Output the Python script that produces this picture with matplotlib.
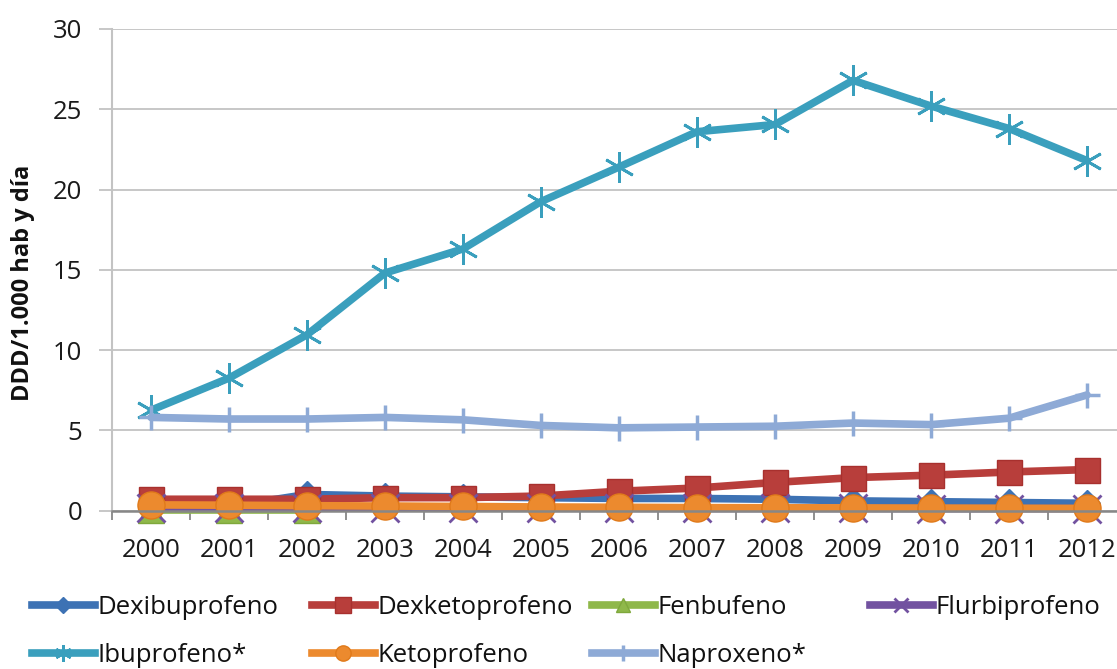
import numpy as np
import matplotlib
matplotlib.use("Agg")
import matplotlib.pyplot as plt
from matplotlib.lines import Line2D

plt.rcParams['font.family'] = ['Open Sans', 'DejaVu Sans']

# Consumo de AINE derivados del ácido propiónico (DDD/1.000 hab y día)
years = ['2000', '2001', '2002', '2003', '2004', '2005', '2006',
         '2007', '2008', '2009', '2010', '2011', '2012']
dexibuprofeno = [0.20, 0.25, 1.00, 0.90, 0.85, 0.80, 0.75, 0.75, 0.70, 0.60, 0.55, 0.50, 0.45]
dexketoprofeno = [0.70, 0.70, 0.70, 0.80, 0.80, 0.90, 1.20, 1.40, 1.75, 2.05, 2.20, 2.40, 2.55]
fenbufeno = [0.02, 0.02, 0.02, np.nan, np.nan, np.nan, np.nan,
             np.nan, np.nan, np.nan, np.nan, np.nan, np.nan]
flurbiprofeno = [0.15, 0.15, 0.15, 0.15, 0.15, 0.14, 0.14, 0.13, 0.13, 0.13, 0.12, 0.12, 0.12]
ibuprofeno = [6.25, 8.25, 10.95, 14.8, 16.3, 19.25, 21.4, 23.6, 24.05, 26.8, 25.2, 23.8, 21.8]
ketoprofeno = [0.35, 0.33, 0.30, 0.28, 0.25, 0.22, 0.20, 0.18, 0.17, 0.16, 0.15, 0.14, 0.13]
naproxeno = [5.8, 5.7, 5.7, 5.8, 5.65, 5.3, 5.15, 5.2, 5.25, 5.45, 5.35, 5.75, 7.2]

y_ticks = [0, 5, 10, 15, 20, 25, 30]
y_label = 'DDD/1.000 hab y día'

series = [
    ('Dexibuprofeno', dexibuprofeno, dict(color='#3d72b4', marker='D', ms=13, mec='#3d72b4')),
    ('Dexketoprofeno', dexketoprofeno, dict(color='#b83e3b', marker='s', ms=18, mec='#a8302e')),
    ('Fenbufeno', fenbufeno, dict(color='#8fb84a', marker='^', ms=19, mec='#7fa83c')),
    ('Flurbiprofeno', flurbiprofeno, dict(color='#7252a0', marker='x', ms=20, mew=2)),
    ('Ibuprofeno*', ibuprofeno, dict(color='#3a9fbd', marker=(6, 2, 0), ms=22, mew=2)),
    ('Ketoprofeno', ketoprofeno, dict(color='#ec8a2e', marker='o', ms=19.5, mec='#e07a1a')),
    ('Naproxeno*', naproxeno, dict(color='#8eaad6', marker='+', ms=18, mew=2.5)),
]

W, H = 1117, 669
fig = plt.figure(figsize=(W / 100, H / 100), dpi=100)
ax_left, ax_right, ax_bottom, ax_top = 112, 1126, 510.5, 29
ax = fig.add_axes([ax_left / W, (H - ax_bottom) / H,
                   (ax_right - ax_left) / W, (ax_bottom - ax_top) / H])

x = np.arange(len(years))
for name, vals, style in series:
    ax.plot(x, vals, lw=5.5, solid_capstyle='round', solid_joinstyle='round',
            label=name, clip_on=False, **style)

ax.set_xlim(-0.5, len(years) - 0.5)
ax.set_ylim(0, 30)
ax.set_yticks(y_ticks)
ax.set_yticklabels([str(t) for t in y_ticks])
ax.set_xticks(x)
ax.set_xticklabels(years)
ax.set_xticks(np.arange(len(years) + 1) - 0.5, minor=True)

ax.grid(axis='y', color='#c3c3c3', lw=1.3, zorder=0)
ax.set_axisbelow(True)
for side in ('top', 'right'):
    ax.spines[side].set_visible(False)
ax.spines['left'].set_color('#c3c3c3')
ax.spines['left'].set_linewidth(1.5)
ax.spines['bottom'].set_color('#878787')
ax.spines['bottom'].set_linewidth(1.8)

ax.tick_params(axis='y', which='major', direction='out', length=9.5, width=1.3,
               color='#c3c3c3', pad=12, labelsize=18.5, labelcolor='#1a1a1a')
ax.tick_params(axis='x', which='major', length=0, pad=20, labelsize=18.5,
               labelcolor='#1a1a1a')
ax.tick_params(axis='x', which='minor', direction='out', length=6.5, width=1.3,
               color='#878787')

fig.text(23 / W, 1 - 283 / H, y_label, rotation=90, ha='center', va='center',
         fontsize=17, fontweight='bold', color='#111111')

# Leyenda en dos filas, cuatro columnas fijas
legend_ms = {'D': 8, 's': 11, '^': 10, 'x': 10, (6, 2, 0): 12, 'o': 11, '+': 12}
col_x = [32, 312, 592, 870]
row_y = [607, 655]
for i, (name, vals, style) in enumerate(series):
    r, c = divmod(i, 4)
    st = dict(style)
    st['ms'] = legend_ms[st['marker']]
    h = Line2D([], [], lw=5.5, **st)
    leg = fig.legend([h], [name], loc='center left',
                     bbox_to_anchor=(col_x[c] / W, 1 - row_y[r] / H),
                     frameon=False, fontsize=18.5, handlelength=2.45,
                     handletextpad=0.1, borderpad=0, borderaxespad=0)
    for t in leg.get_texts():
        t.set_color('#111111')

fig.savefig('out.png', dpi=100)
